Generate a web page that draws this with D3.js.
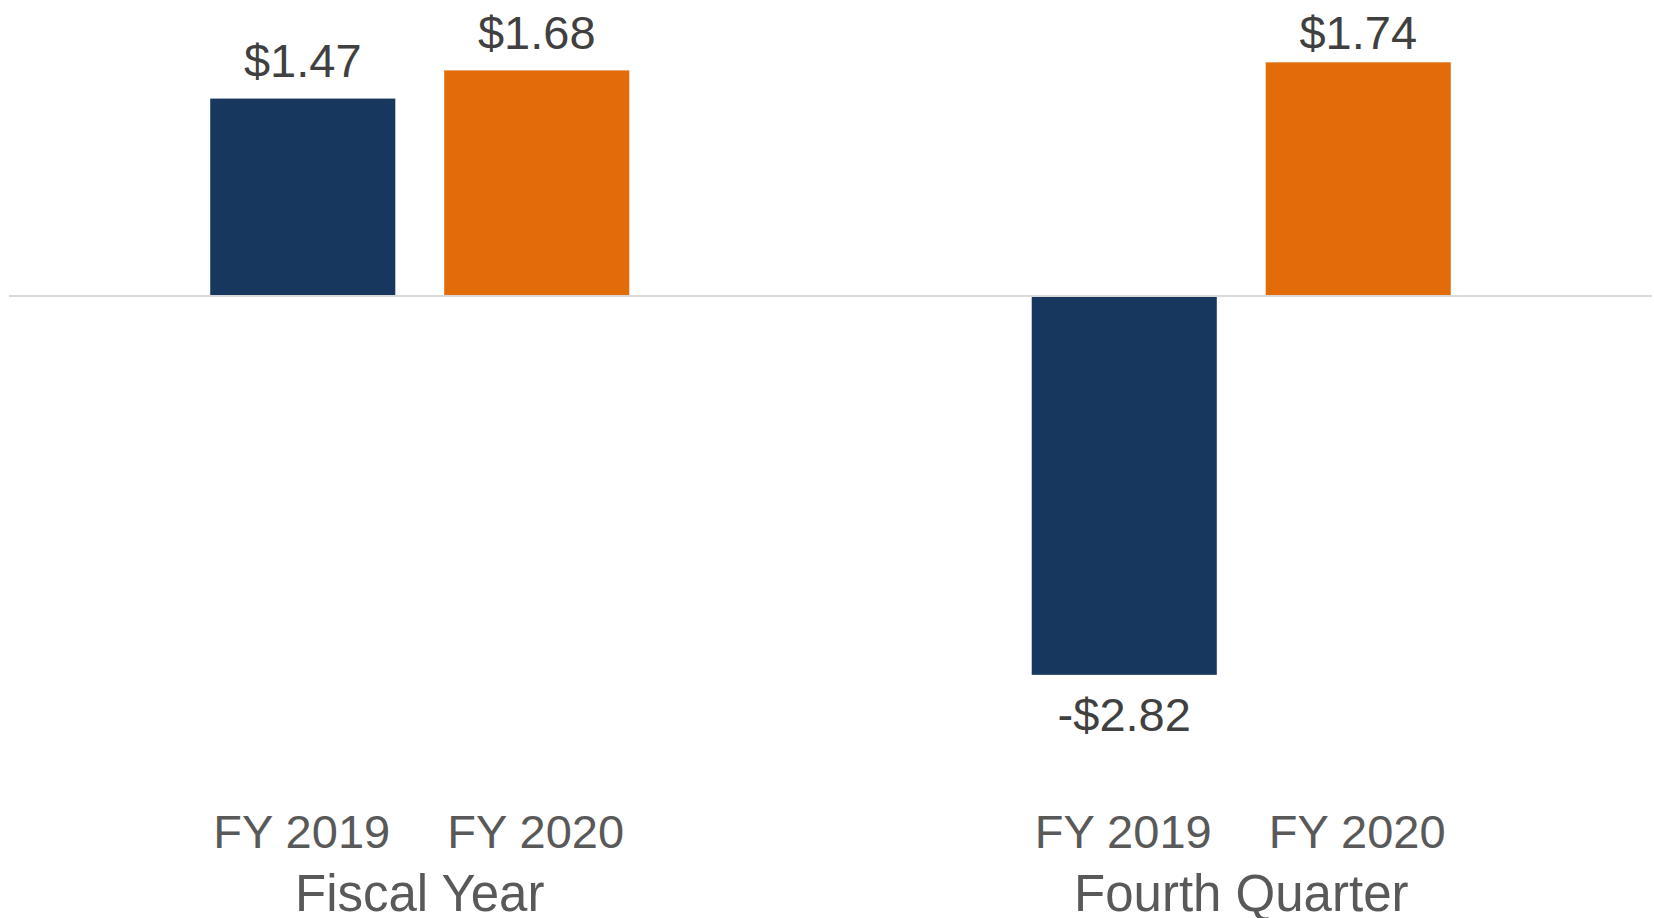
<!DOCTYPE html>
<html>
<head>
<meta charset="utf-8">
<script src="https://cdn.jsdelivr.net/npm/d3@7"></script>
<style>
  html, body { margin: 0; padding: 0; background: #fff; }
  svg { display: block; font-family: "Liberation Sans", Arial, sans-serif; }
</style>
</head>
<body>
<div id="chart"></div>
<script>
// data
const groups = ["Fiscal Year", "Fourth Quarter"];
const years = ["FY 2019", "FY 2020"];
const fy2019 = [1.47, -2.82];
const fy2020 = [1.68, 1.74];
const valueLabels = [["$1.47", "$1.68"], ["-$2.82", "$1.74"]];

const width = 1654, height = 918;
const colors = { "FY 2019": "#17375e", "FY 2020": "#e36c0a" };

const rows = groups.map((g, i) => ({
  group: g,
  bars: [
    { year: years[0], value: fy2019[i], label: valueLabels[i][0] },
    { year: years[1], value: fy2020[i], label: valueLabels[i][1] }
  ]
}));

const svg = d3.select("#chart")
  .append("svg")
  .attr("width", width)
  .attr("height", height);

// scales
const x0 = d3.scaleBand()
  .domain(groups)
  .range([9, 1652])
  .padding(0);

const x1 = d3.scaleBand()
  .domain(years)
  .range([0, x0.bandwidth()])
  .paddingInner(0.209)
  .paddingOuter(0.86);

const y = d3.scaleLinear()
  .domain([-3, 2])
  .range([699, 27.4]);

// bars
const g = svg.selectAll(".group")
  .data(rows)
  .enter()
  .append("g")
  .attr("class", "group")
  .attr("transform", (d) => `translate(${x0(d.group)},0)`);

g.selectAll("rect")
  .data((d) => d.bars)
  .enter()
  .append("rect")
  .attr("x", (d) => x1(d.year))
  .attr("width", x1.bandwidth())
  .attr("y", (d) => y(Math.max(0, d.value)))
  .attr("height", (d) => Math.abs(y(d.value) - y(0)))
  .attr("fill", (d) => colors[d.year]);

// zero line
svg.append("line")
  .attr("x1", x0.range()[0])
  .attr("x2", x0.range()[1])
  .attr("y1", y(0))
  .attr("y2", y(0))
  .attr("stroke", "#d9d9d9")
  .attr("stroke-width", 2);

// value labels
g.selectAll(".val")
  .data((d) => d.bars)
  .enter()
  .append("text")
  .attr("class", "val")
  .attr("x", (d) => x1(d.year) + x1.bandwidth() / 2)
  .attr("y", (d) => d.value >= 0 ? Math.max(y(d.value) - 22, 49) : y(d.value) + 56)
  .attr("text-anchor", "middle")
  .attr("font-size", "47px")
  .attr("fill", "#404040")
  .text((d) => d.label);

// year tick labels
g.selectAll(".tick-lbl")
  .data(years)
  .enter()
  .append("text")
  .attr("class", "tick-lbl")
  .attr("x", (d) => x1(d) + x1.bandwidth() / 2 - 1)
  .attr("y", 848)
  .attr("text-anchor", "middle")
  .attr("font-size", "47px")
  .attr("fill", "#595959")
  .text((d) => d);

// group labels
g.append("text")
  .attr("x", x0.bandwidth() / 2)
  .attr("y", 911)
  .attr("text-anchor", "middle")
  .attr("font-size", "51px")
  .attr("fill", "#595959")
  .text((d) => d.group);
</script>
</body>
</html>
